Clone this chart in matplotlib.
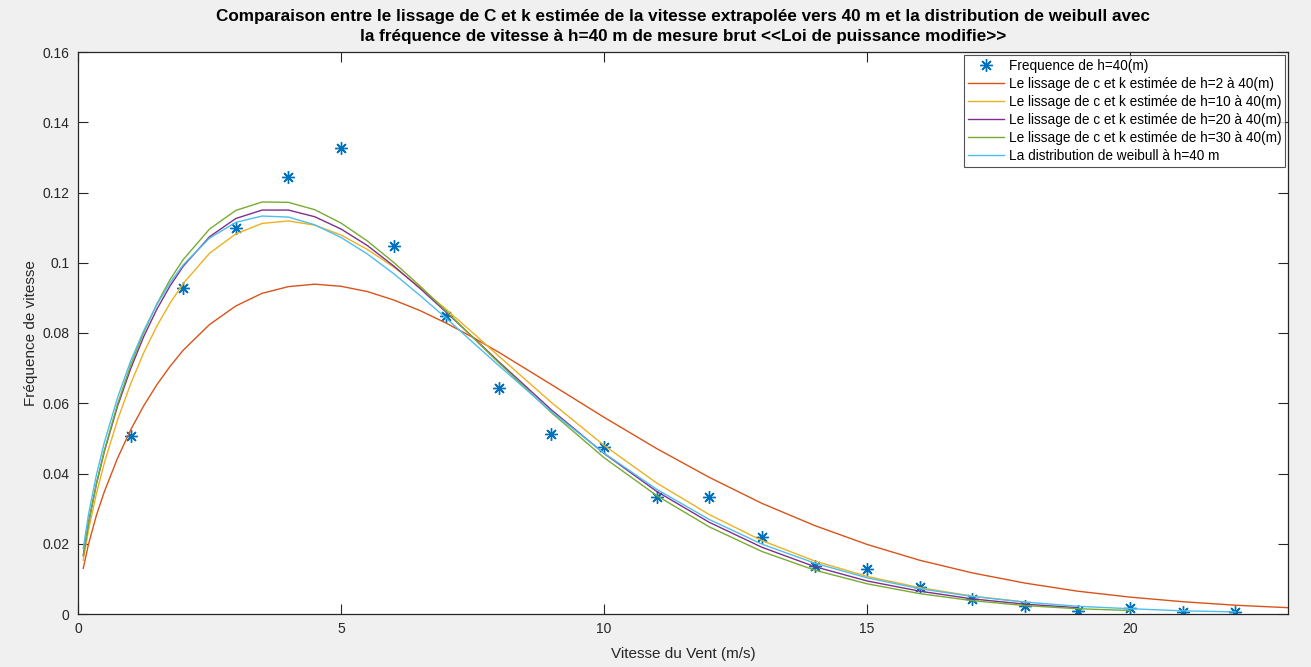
import matplotlib
matplotlib.use("Agg")
import matplotlib.pyplot as plt

# mesures brutes h=40 m
v_mes = [1, 2, 3, 4, 5, 6, 7, 8, 9, 10, 11, 12, 13, 14, 15, 16, 17, 18, 19, 20, 21, 22]
f_mes = [0.0507, 0.0928, 0.1100, 0.1244, 0.1327, 0.1048, 0.0848, 0.0643, 0.0512, 0.0475,
         0.0333, 0.0333, 0.0219, 0.0137, 0.0128, 0.0077, 0.0043, 0.0023, 0.0009, 0.0017,
         0.0006, 0.0006]

# courbes
v = [0.1, 0.2, 0.35, 0.5, 0.75, 1, 1.25, 1.5, 1.75, 2, 2.5, 3, 3.5, 4, 4.5, 5, 5.5, 6, 6.5,
     7, 7.5, 8, 9, 10, 11, 12, 13, 14, 15, 16, 17, 18, 19, 20, 21, 22, 23]
f_h2 = [0.0130, 0.0199, 0.0281, 0.0348, 0.0443, 0.0524, 0.0593, 0.0653, 0.0705, 0.0751,
        0.0824, 0.0877, 0.0913, 0.0932, 0.0939, 0.0933, 0.0918, 0.0894, 0.0864,
        0.0828, 0.0788, 0.0745, 0.0653, 0.0560, 0.0471, 0.0389, 0.0315, 0.0252, 0.0198,
        0.0153, 0.0117, 0.0088, 0.0065, 0.0048, 0.0035, 0.0025, 0.0018]
f_h10 = [0.0153, 0.0239, 0.0343, 0.0430, 0.0552, 0.0655, 0.0744, 0.0820, 0.0885, 0.0941,
         0.1027, 0.1082, 0.1112, 0.1119, 0.1107, 0.1079, 0.1038, 0.0988, 0.0930,
         0.0867, 0.0801, 0.0734, 0.0602, 0.0480, 0.0373, 0.0283, 0.0209, 0.0151, 0.0107,
         0.0075, 0.0051, 0.0034]
f_h20 = [0.0167, 0.0260, 0.0370, 0.0462, 0.0591, 0.0698, 0.0790, 0.0868, 0.0934, 0.0990,
         0.1074, 0.1126, 0.1150, 0.1150, 0.1131, 0.1096, 0.1049, 0.0991, 0.0927,
         0.0859, 0.0789, 0.0718, 0.0581, 0.0457, 0.0349, 0.0261, 0.0190, 0.0135, 0.0094,
         0.0065, 0.0043, 0.0028, 0.0018]
f_h30 = [0.0166, 0.0259, 0.0371, 0.0465, 0.0597, 0.0708, 0.0802, 0.0883, 0.0952, 0.1009,
         0.1096, 0.1149, 0.1173, 0.1172, 0.1151, 0.1113, 0.1062, 0.1001, 0.0934,
         0.0862, 0.0788, 0.0715, 0.0573, 0.0445, 0.0337, 0.0248, 0.0178, 0.0125, 0.0086,
         0.0058, 0.0038, 0.0024, 0.0015, 0.0010]
f_weib = [0.0187, 0.0284, 0.0396, 0.0488, 0.0615, 0.0720, 0.0807, 0.0881, 0.0943, 0.0994,
          0.1070, 0.1115, 0.1133, 0.1130, 0.1108, 0.1072, 0.1025, 0.0969, 0.0907,
          0.0842, 0.0774, 0.0707, 0.0576, 0.0458, 0.0355, 0.0269, 0.0199, 0.0145, 0.0103,
          0.0072, 0.0050, 0.0034, 0.0022, 0.0015, 0.0009, 0.0006]

labels = ['Frequence de h=40(m)',
          'Le lissage de c et k estimée de h=2 à 40(m)',
          'Le lissage de c et k estimée de h=10 à 40(m)',
          'Le lissage de c et k estimée de h=20 à 40(m)',
          'Le lissage de c et k estimée de h=30 à 40(m)',
          'La distribution de weibull à h=40 m']

plt.rcParams['font.family'] = ['Liberation Sans', 'DejaVu Sans']
gris = '#262626'

fig = plt.figure(figsize=(13.11, 6.67), dpi=100, facecolor='#f0f0f0')
ax = fig.add_axes([78 / 1311, 53 / 667, 1210 / 1311, 562 / 667])

ax.plot(v_mes, f_mes, linestyle='none', marker=(8, 2, 0), markersize=9,
        markeredgewidth=1.0, color='#0072BD', label=labels[0])
ax.plot(v, f_h2, color='#D95319', lw=1, label=labels[1])
ax.plot(v[:len(f_h10)], f_h10, color='#EDB120', lw=1, label=labels[2])
ax.plot(v[:len(f_h20)], f_h20, color='#7E2F8E', lw=1, label=labels[3])
ax.plot(v[:len(f_h30)], f_h30, color='#77AC30', lw=1, label=labels[4])
ax.plot(v[:len(f_weib)], f_weib, color='#4DBEEE', lw=1, label=labels[5])

ax.set_xlim(0, 23)
ax.set_ylim(0, 0.16)
ax.set_xticks([0, 5, 10, 15, 20])
ax.set_yticks([0, 0.02, 0.04, 0.06, 0.08, 0.1, 0.12, 0.14, 0.16])
ax.set_yticklabels(['0', '0.02', '0.04', '0.06', '0.08', '0.1', '0.12', '0.14', '0.16'])
ax.tick_params(direction='in', length=7, width=0.8, color=gris, labelcolor=gris,
               labelsize=10, top=True, right=True, pad=6)
for s in ax.spines.values():
    s.set_color(gris)
    s.set_linewidth(0.9)

ax.set_xlabel('Vitesse du Vent (m/s)', fontsize=11, color=gris, labelpad=8)
ax.set_ylabel('Fréquence de vitesse', fontsize=11, color=gris, labelpad=3)
ax.set_title('Comparaison entre le lissage de C et k estimée de la vitesse extrapolée vers 40 m '
             'et la distribution de weibull avec\nla fréquence de vitesse à h=40 m de mesure brut '
             '<<Loi de puissance modifie>>', fontsize=12.3, fontweight='bold', color='black',
             linespacing=1.4, pad=8)

leg = ax.legend(loc='upper right', fontsize=9.8, frameon=True, fancybox=False,
                edgecolor=gris, borderaxespad=0.2, handlelength=2.7, labelspacing=0.3,
                borderpad=0.3, handletextpad=0.3)
leg.get_frame().set_linewidth(0.8)

fig.savefig('out.png', dpi=100, facecolor=fig.get_facecolor())
